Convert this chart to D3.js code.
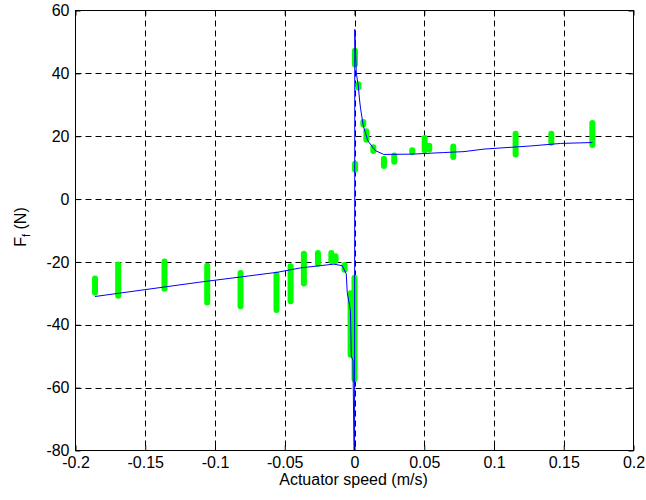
<!DOCTYPE html>
<html>
<head>
<meta charset="utf-8">
<script src="https://cdn.jsdelivr.net/npm/d3@7"></script>
<style>
  body { margin: 0; background: #fff; }
  text { font-family: "Liberation Sans", Arial, sans-serif; font-size: 16px; fill: #000; }
</style>
</head>
<body>
<svg id="chart" width="646" height="500"></svg>
<script>
// measured bars (speed, min force, max force)
const barSpeed = [-0.186, -0.1694, -0.1362, -0.1056, -0.0817, -0.0559, -0.0458, -0.0363, -0.0262, -0.0166,
  -0.0136, -0.0071, -0.0028, 0.0, 0.0003, 0.0004, 0.0027, 0.0063, 0.0085, 0.0135,
  0.0211, 0.0285, 0.0414, 0.0503, 0.0536, 0.0708, 0.1155, 0.1411, 0.1705];
const barLow = [-29.8, -30.8, -28.5, -32.9, -34.1, -35.3, -32.5, -26.9, -20.6, -19.7,
  -19.7, -22.5, -49.5, -57.3, 42.8, 9.3, 35.5, 23.7, 18.9, 15.3,
  10.5, 11.9, 14.9, 15.5, 15.8, 13.4, 14.2, 17.9, 17.2];
const barHigh = [-25.3, -20.8, -19.9, -21.2, -23.5, -24.0, -21.4, -17.4, -17.2, -17.2,
  -18.2, -21.0, -30.0, -25.0, 47.2, 11.2, 36.5, 24.5, 21.6, 16.5,
  12.8, 13.9, 15.5, 19.4, 17.0, 16.7, 20.8, 20.8, 24.2];

// friction model curve
const curveSpeed = [-0.186, -0.112, -0.0554, -0.0387, -0.0148, -0.0088, -0.0059, -0.0052, -0.0029, -0.0023,
  -0.0011, -0.0004, 0.0, 0.0002, 0.0013, 0.0027, 0.0037, 0.0044, 0.0063, 0.0096,
  0.015, 0.021, 0.041, 0.064, 0.0785, 0.0928, 0.1263, 0.1478, 0.1705];
const curveForce = [-31.0, -26.5, -23.3, -21.9, -20.7, -21.2, -23.8, -29.7, -35.5, -50.0,
  -51.4, -78.5, -100, 54.0, 40.1, 36.0, 31.2, 28.7, 23.3, 18.5,
  15.4, 14.2, 14.3, 14.8, 15.1, 15.9, 16.9, 17.7, 18.0];

const xTicks = [-0.2, -0.15, -0.1, -0.05, 0, 0.05, 0.1, 0.15, 0.2];
const yTicks = [-80, -60, -40, -20, 0, 20, 40, 60];

const svg = d3.select("#chart");
const pL = 75.5, pR = 633.5, pT = 10.5, pB = 450.5;

const x = d3.scaleLinear().domain([-0.2, 0.2]).range([pL, pR]);
const y = d3.scaleLinear().domain([-80, 60]).range([pB, pT]);

// plain hyphen minus like matlab
const fmt = d => String(d);

svg.append("clipPath").attr("id", "clip")
  .append("rect").attr("x", pL).attr("y", pT)
  .attr("width", pR - pL).attr("height", pB - pT);

// grid
const grid = svg.append("g").attr("stroke", "#000").attr("stroke-dasharray", "6,4").attr("stroke-width", 1);
grid.selectAll("line.vx").data(xTicks.slice(1, -1)).enter().append("line")
  .attr("x1", d => Math.round(x(d)) + 0.5).attr("x2", d => Math.round(x(d)) + 0.5)
  .attr("y1", pT).attr("y2", pB);
grid.selectAll("line.hy").data(yTicks.slice(1, -1)).enter().append("line")
  .attr("y1", d => Math.round(y(d)) + 0.5).attr("y2", d => Math.round(y(d)) + 0.5)
  .attr("x1", pL).attr("x2", pR);

const plot = svg.append("g").attr("clip-path", "url(#clip)");

// green measurement bars
plot.selectAll("line.bar").data(barSpeed).enter().append("line")
  .attr("class", "bar")
  .attr("x1", d => x(d)).attr("x2", d => x(d))
  .attr("y1", (d, i) => y(barLow[i])).attr("y2", (d, i) => y(barHigh[i]) - 0.01)
  .attr("stroke", "#00ff00").attr("stroke-width", 6).attr("stroke-linecap", "round");

// blue model line
const line = d3.line().x(d => x(d[0])).y(d => y(d[1]));
plot.append("path")
  .datum(curveSpeed.map((s, i) => [s, curveForce[i]]))
  .attr("d", line)
  .attr("fill", "none").attr("stroke", "#0000ff").attr("stroke-width", 1);

// axes box with inward ticks (matlab style)
const xAxisB = d3.axisBottom(x).tickValues(xTicks).tickSize(-5).tickPadding(6).tickFormat(fmt);
const xAxisT = d3.axisTop(x).tickValues(xTicks).tickSize(-5).tickFormat("");
const yAxisL = d3.axisLeft(y).tickValues(yTicks).tickSize(-5).tickPadding(6).tickFormat(fmt);
const yAxisR = d3.axisRight(y).tickValues(yTicks).tickSize(-5).tickFormat("");

const styleAxis = g => {
  g.select(".domain").remove();
  g.selectAll("line").attr("stroke", "#000");
  g.selectAll("text").attr("font-size", 16).attr("font-family", "Liberation Sans, Arial, sans-serif").attr("fill", "#000");
};
svg.append("g").attr("transform", `translate(0,${pB})`).call(xAxisB).call(styleAxis);
svg.append("g").attr("transform", `translate(0,${pT})`).call(xAxisT).call(styleAxis);
svg.append("g").attr("transform", `translate(${pL},0)`).call(yAxisL).call(styleAxis);
svg.append("g").attr("transform", `translate(${pR},0)`).call(yAxisR).call(styleAxis);

svg.append("rect").attr("x", pL).attr("y", pT)
  .attr("width", pR - pL).attr("height", pB - pT)
  .attr("fill", "none").attr("stroke", "#000").attr("stroke-width", 1);

// labels
svg.append("text").attr("x", 353.5).attr("y", 485)
  .attr("text-anchor", "middle").attr("font-size", 17).text("Actuator speed (m/s)");

const yl = svg.append("text").attr("transform", "translate(25.5,227) rotate(-90)")
  .attr("text-anchor", "middle").attr("font-size", 16);
yl.append("tspan").text("F");
yl.append("tspan").attr("font-size", 11).attr("dy", 4).text("f");
yl.append("tspan").attr("dy", -4).text(" (N)");
</script>
</body>
</html>
